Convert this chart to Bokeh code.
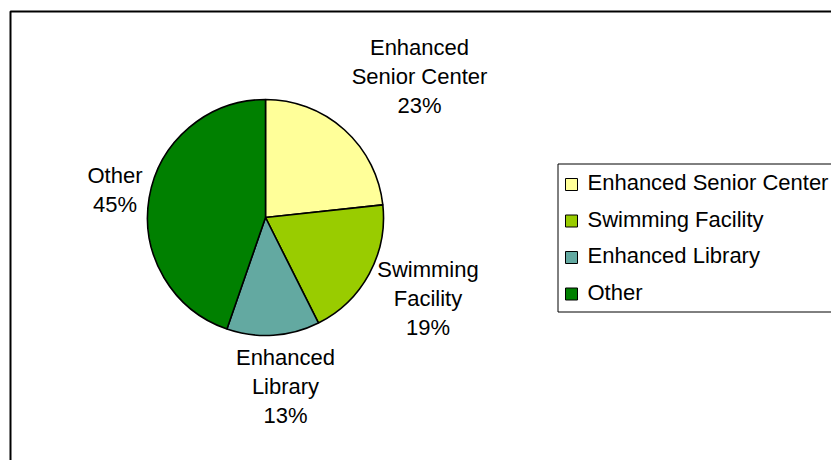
import math
from bokeh.plotting import figure
from bokeh.models import Range1d, ColumnDataSource
from bokeh.embed import file_html
from bokeh.resources import INLINE
from bokeh.core.properties import value

# ---- data ----
categories = ["Enhanced Senior Center", "Swimming Facility", "Enhanced Library", "Other"]
shares = [23.3, 19.3, 12.7, 44.7]
colors = ["#FFFF99", "#99CC00", "#63A9A1", "#008000"]
label_lines = [["Enhanced", "Senior Center"], ["Swimming", "Facility"], ["Enhanced", "Library"], ["Other"]]

# ---- layout (page pixels) ----
W, H = 831, 460
FONT = "Liberation Sans"
FSIZE = "22px"
TEXT_SHIFT = 8  # compensate baseline offset of rendered text
label_anchor_x = [419, 427.5, 285, 114.5]
label_anchor_y = [55, 277, 365, 183]
LINE_STEP = 29
pie_cx, pie_cy, pie_r = 265, 217, 118


def px(x):
    return x


def py(y):
    return H - y


p = figure(width=W, height=H, output_backend="svg", toolbar_location=None,
           x_range=Range1d(0, W), y_range=Range1d(0, H), min_border=0)
p.axis.visible = False
p.grid.visible = False
p.outline_line_color = None
p.background_fill_color = "white"
p.border_fill_color = "white"

# outer chart border (extends beyond the window on right/bottom)
p.quad(left=[px(10)], right=[px(1000)], top=[py(11)], bottom=[py(700)],
       fill_color=None, line_color="black", line_width=2)

# pie
total = sum(shares)
starts, ends = [], []
cum = 0.0
for s in shares:
    a0 = math.pi / 2 - 2 * math.pi * cum / total
    cum += s
    a1 = math.pi / 2 - 2 * math.pi * cum / total
    starts.append(a0)
    ends.append(a1)
src = ColumnDataSource(dict(start=starts, end=ends, color=colors, cat=categories))
p.wedge(x=px(pie_cx), y=py(pie_cy), radius=pie_r, radius_units="screen",
        start_angle="start", end_angle="end", direction="clock",
        fill_color="color", line_color="black", line_width=1.6, source=src)

# data labels
tx, ty, tt = [], [], []
for i, lines in enumerate(label_lines):
    all_lines = lines + [f"{round(shares[i] / total * 100)}%"]
    for j, t in enumerate(all_lines):
        tx.append(px(label_anchor_x[i]))
        ty.append(py(label_anchor_y[i] + j * LINE_STEP - TEXT_SHIFT))
        tt.append(t)
p.text(x=tx, y=ty, text=tt, text_font=value(FONT), text_font_size=FSIZE,
       text_align="center", text_baseline="alphabetic", text_color="black")

# legend box
p.quad(left=[px(557.5)], right=[px(1000)], top=[py(163.5)], bottom=[py(311.5)],
       fill_color="white", line_color="black", line_width=1)
leg_base = [190 + 36.5 * i for i in range(len(categories))]
p.rect(x=[px(571)] * len(categories), y=[py(b - 6) for b in leg_base],
       width=12, height=12, width_units="screen", height_units="screen",
       fill_color=colors, line_color="black", line_width=1)
p.text(x=[px(587)] * len(categories), y=[py(b - TEXT_SHIFT) for b in leg_base], text=categories,
       text_font=value(FONT), text_font_size=FSIZE, text_align="left",
       text_baseline="alphabetic", text_color="black")

open("out.html", "w").write(file_html(p, INLINE))
